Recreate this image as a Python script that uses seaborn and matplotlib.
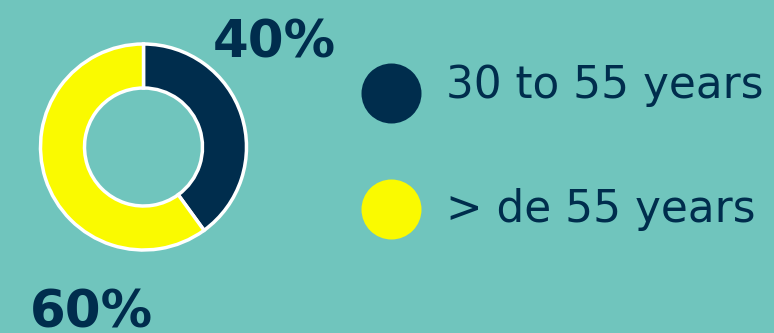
import matplotlib
matplotlib.use("Agg")
import matplotlib.pyplot as plt
import seaborn as sns

categories = ["30 to 55 years", "> de 55 years"]
values = [40, 60]
pct_labels = ["40%", "60%"]

BG = "#70C5BD"
NAVY = "#002D4D"
YELLOW = "#FAFA00"
colors = [NAVY, YELLOW]

sns.set_theme(style="white")
plt.rcParams["font.family"] = ["DejaVu Sans"]

fig = plt.figure(figsize=(7.74, 3.33), dpi=100, facecolor=BG)
ax = fig.add_axes([0, 0, 1, 1])
ax.set_facecolor(BG)

ax.pie(values, colors=colors, startangle=90, counterclock=False,
       center=(143.5, 186), radius=103,
       wedgeprops=dict(width=44, edgecolor="white", linewidth=2.5))
ax.set_xlim(0, 774)
ax.set_ylim(0, 333)
ax.set_aspect("equal")
ax.axis("off")

# percentage labels
ax.text(213, 276, pct_labels[0], fontsize=37, fontweight="bold", color=NAVY,
        ha="left", va="baseline")
ax.text(30, 6, pct_labels[1], fontsize=37, fontweight="bold", color=NAVY,
        ha="left", va="baseline")

# legend
leg_y = [240, 124]
base_y = [235, 111]
for cat, col, cy, by in zip(categories, colors, leg_y, base_y):
    ax.scatter([391], [cy], s=(60 * 0.72) ** 2, color=col, linewidths=0, zorder=3)
    ax.text(446, by, cat, fontsize=31.5, color=NAVY, ha="left", va="baseline")

fig.savefig("out.png", dpi=100, facecolor=BG)
